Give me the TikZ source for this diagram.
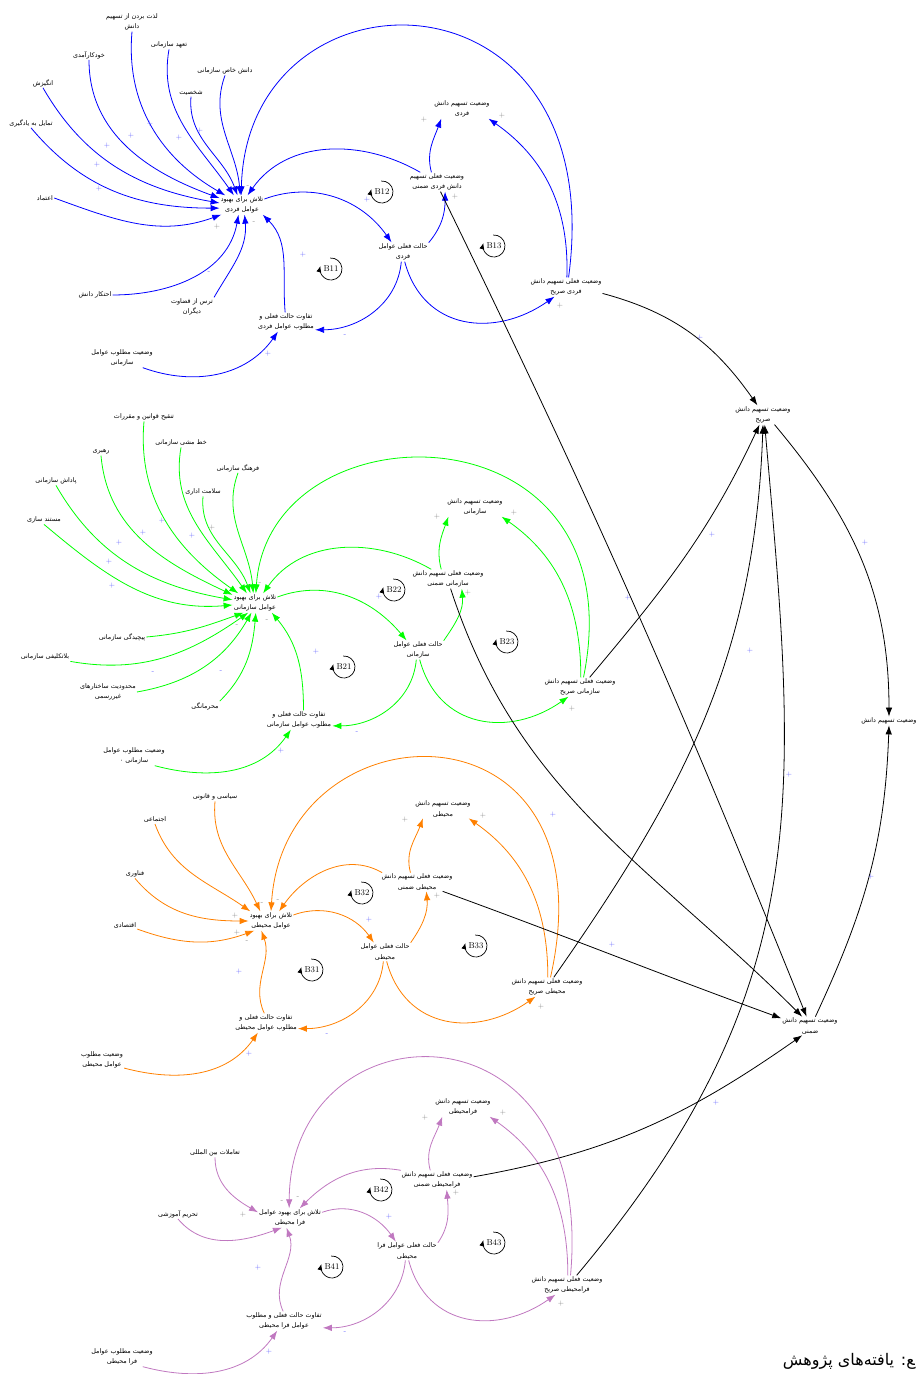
\documentclass[tikz,border=0pt]{standalone}
\usepackage{fontspec}
\usetikzlibrary{arrows.meta}
\newfontfamily\fa[Script=Arabic]{DejaVu Sans}
\TeXXeTstate=1
\newcommand\rtxt[1]{\beginR#1\endR}
\definecolor{cblue}{RGB}{0,0,255}
\definecolor{cgreen}{RGB}{0,255,0}
\definecolor{corange}{RGB}{255,128,0}
\definecolor{cpurple}{RGB}{192,120,192}
\definecolor{signblue}{RGB}{95,95,255}
\tikzset{
  lbl/.style={font=\fa\fontsize{6.4}{10.5}\selectfont, align=center, inner sep=1pt},
  sgn/.style={font=\sffamily\fontsize{7.5}{7.5}\selectfont, text=signblue, inner sep=0pt},
  sgng/.style={sgn, text=gray},
  bname/.style={font=\fontsize{8.5}{8.5}\selectfont, inner sep=0pt},
  edge/.style={line width=0.8pt, -{Latex[length=9pt,width=6.5pt]}},
  bedge/.style={edge, draw=cblue},
  gedge/.style={edge, draw=cgreen},
  oedge/.style={edge, draw=corange},
  pedge/.style={edge, draw=cpurple},
  kedge/.style={edge, draw=black}
}
% loop marker: coordinate name, label
\newcommand\loopmark[2]{%
  \node[bname] (#1t) at (#1) {#2};
  \draw[line width=0.7pt, -{Latex[length=6pt,width=5pt]}] ([shift={(95:11)}]#1) arc[start angle=95, end angle=-195, radius=11];
}
\begin{document}
\begin{tikzpicture}[x=1pt,y=1pt]
  \useasboundingbox (0,0) rectangle (922,1374);

  % individual factors
  \node[lbl] (a1) at (242,1169) {\rtxt{تلاش برای بهبود}\\\rtxt{عوامل فردی}};
  \node[lbl] (f11) at (132,1352) {\rtxt{لذت بردن از تسهیم}\\\rtxt{دانش}};
  \node[lbl] (f12) at (169,1329) {\rtxt{تعهد سازمانی}};
  \node[lbl] (f13) at (89,1319) {\rtxt{خودکارآمدی}};
  \node[lbl] (f14) at (225,1303) {\rtxt{دانش خاص سازمانی}};
  \node[lbl] (f15) at (43,1291) {\rtxt{انگیزش}};
  \node[lbl] (f16) at (191,1281) {\rtxt{شخصیت}};
  \node[lbl] (f17) at (31,1251) {\rtxt{تمایل به یادگیری}};
  \node[lbl] (f18) at (45,1176) {\rtxt{اعتماد}};
  \node[lbl] (f19) at (95,1079) {\rtxt{احتکار دانش}};
  \node[lbl] (f110) at (192,1067) {\rtxt{ترس از قضاوت}\\\rtxt{دیگران}};
  \node[lbl] (d1) at (286,1052) {\rtxt{تفاوت حالت فعلی و}\\\rtxt{مطلوب عوامل فردی}};
  \node[lbl] (g1) at (122,1016) {\rtxt{وضعیت مطلوب عوامل}\\\rtxt{سازمانی}};
  \node[lbl] (c1) at (403,1122) {\rtxt{حالت فعلی عوامل}\\\rtxt{فردی}};
  \node[lbl] (t1) at (437,1192) {\rtxt{وضعیت فعلی تسهیم}\\\rtxt{دانش فردی ضمنی}};
  \node[lbl] (s1) at (462,1265) {\rtxt{وضعیت تسهیم دانش}\\\rtxt{فردی}};
  \node[lbl] (e1) at (566,1087) {\rtxt{وضعیت فعلی تسهیم دانش}\\\rtxt{فردی صریح}};

  % organisational factors
  \node[lbl] (a2) at (255,771) {\rtxt{تلاش برای بهبود}\\\rtxt{عوامل سازمانی}};
  \node[lbl] (f21) at (144,957) {\rtxt{تنقیح قوانین و مقررات}};
  \node[lbl] (f22) at (181,931) {\rtxt{خط مشی سازمانی}};
  \node[lbl] (f23) at (101,922) {\rtxt{رهبری}};
  \node[lbl] (f24) at (238,906) {\rtxt{فرهنگ سازمانی}};
  \node[lbl] (f25) at (56,893) {\rtxt{پاداش سازمانی}};
  \node[lbl] (f26) at (203,882) {\rtxt{سلامت اداری}};
  \node[lbl] (f27) at (44,854) {\rtxt{مستند سازی}};
  \node[lbl] (f28) at (122,737) {\rtxt{پیچیدگی سازمانی}};
  \node[lbl] (f29) at (45,717) {\rtxt{بلاتکلیفی سازمانی}};
  \node[lbl] (f210) at (108,682) {\rtxt{محدودیت ساختارهای}\\\rtxt{غیررسمی}};
  \node[lbl] (f211) at (205,668) {\rtxt{محرمانگی}};
  \node[lbl] (d2) at (299,654) {\rtxt{تفاوت حالت فعلی و}\\\rtxt{مطلوب عوامل سازمانی}};
  \node[lbl] (g2) at (134,618) {\rtxt{وضعیت مطلوب عوامل}\\\rtxt{سازمانی ۰}};
  \node[lbl] (c2) at (418,724) {\rtxt{حالت فعلی عوامل}\\\rtxt{سازمانی}};
  \node[lbl] (t2) at (448,795) {\rtxt{وضعیت فعلی تسهیم دانش}\\\rtxt{سازمانی ضمنی}};
  \node[lbl] (s2) at (475,867) {\rtxt{وضعیت تسهیم دانش}\\\rtxt{سازمانی}};
  \node[lbl] (e2) at (580,687) {\rtxt{وضعیت فعلی تسهیم دانش}\\\rtxt{سازمانی صریح}};

  % environmental factors
  \node[lbl] (a3) at (271,453) {\rtxt{تلاش برای بهبود}\\\rtxt{عوامل محیطی}};
  \node[lbl] (f31) at (215,577) {\rtxt{سیاسی و قانونی}};
  \node[lbl] (f32) at (155,554) {\rtxt{اجتماعی}};
  \node[lbl] (f33) at (135,500) {\rtxt{فناوری}};
  \node[lbl] (f34) at (125,449) {\rtxt{اقتصادی}};
  \node[lbl] (d3) at (266,351) {\rtxt{تفاوت حالت فعلی و}\\\rtxt{مطلوب عوامل محیطی}};
  \node[lbl] (g3) at (102,314) {\rtxt{وضعیت مطلوب}\\\rtxt{عوامل محیطی}};
  \node[lbl] (c3) at (385,422) {\rtxt{حالت فعلی عوامل}\\\rtxt{محیطی}};
  \node[lbl] (t3) at (417,492) {\rtxt{وضعیت فعلی تسهیم دانش}\\\rtxt{محیطی ضمنی}};
  \node[lbl] (s3) at (443,565) {\rtxt{وضعیت تسهیم دانش}\\\rtxt{محیطی}};
  \node[lbl] (e3) at (547,387) {\rtxt{وضعیت فعلی تسهیم دانش}\\\rtxt{محیطی صریح}};

  % meta-environmental factors
  \node[lbl] (a4) at (290,156) {\rtxt{تلاش برای بهبود عوامل}\\\rtxt{فرا محیطی}};
  \node[lbl] (f41) at (215,221) {\rtxt{تعاملات بین المللی}};
  \node[lbl] (f42) at (178,160) {\rtxt{تحریم آموزشی}};
  \node[lbl] (d4) at (284,53) {\rtxt{تفاوت حالت فعلی و مطلوب}\\\rtxt{عوامل فرا محیطی}};
  \node[lbl] (g4) at (122,17) {\rtxt{وضعیت مطلوب عوامل}\\\rtxt{فرا محیطی}};
  \node[lbl] (c4) at (407,123) {\rtxt{حالت فعلی عوامل فرا}\\\rtxt{محیطی}};
  \node[lbl] (t4) at (437,194) {\rtxt{وضعیت فعلی تسهیم دانش}\\\rtxt{فرامحیطی ضمنی}};
  \node[lbl] (s4) at (463,267) {\rtxt{وضعیت تسهیم دانش}\\\rtxt{فرامحیطی}};
  \node[lbl] (e4) at (567,89) {\rtxt{وضعیت فعلی تسهیم دانش}\\\rtxt{فرامحیطی صریح}};

  % knowledge sharing
  \node[lbl] (r1) at (763,959) {\rtxt{وضعیت تسهیم دانش}\\\rtxt{صریح}};
  \node[lbl] (r2) at (889,653) {\rtxt{وضعیت تسهیم دانش}};
  \node[lbl] (r3) at (810,348) {\rtxt{وضعیت تسهیم دانش}\\\rtxt{ضمنی}};
  \node[font=\fa\fontsize{16}{16}\selectfont, anchor=east, inner sep=0pt] (src) at (915,13) {\rtxt{\char"200D ع: یافته‌های پژوهش}};

  % loops
  \coordinate (b11) at (331,1105);
  \coordinate (b12) at (382,1182);
  \coordinate (b13) at (494,1128);
  \coordinate (b21) at (344,707);
  \coordinate (b22) at (394,784);
  \coordinate (b23) at (507,732);
  \coordinate (b31) at (312,404);
  \coordinate (b32) at (362,481);
  \coordinate (b33) at (476,428);
  \coordinate (b41) at (332,107);
  \coordinate (b42) at (381,184);
  \coordinate (b43) at (494,131);
  \loopmark{b11}{B11} \loopmark{b12}{B12} \loopmark{b13}{B13}
  \loopmark{b21}{B21} \loopmark{b22}{B22} \loopmark{b23}{B23}
  \loopmark{b31}{B31} \loopmark{b32}{B32} \loopmark{b33}{B33}
  \loopmark{b41}{B41} \loopmark{b42}{B42} \loopmark{b43}{B43}

  % blue
  \draw[bedge] (f11.south) to[out=-95,in=150] (a1.150);
  \draw[bedge] (f12.south) to[out=-100,in=125] (a1.130);
  \draw[bedge] (f13.south) to[out=-90,in=160] (a1.163);
  \draw[bedge] (f14.south) to[out=-110,in=95] (a1.100);
  \draw[bedge] (f15.south) to[out=-60,in=170] (a1.175);
  \draw[bedge] (f16.south) to[out=-95,in=110] (a1.115);
  \draw[bedge] (f17.south) to[out=-50,in=180] (a1.188);
  \draw[bedge] (f18.east) to[out=-20,in=200] (a1.205);
  \draw[bedge] (f19.east) to[out=0,in=-100] (a1.-110);
  \draw[bedge] (f110.north east) to[out=60,in=-85] (a1.-75);
  \draw[bedge] (d1.95) to[out=95,in=-45] (a1.-25);
  \draw[bedge] (g1.-25) to[out=-20,in=-125] (d1.-130);
  \draw[bedge] (a1.15) to[out=20,in=125] (c1.140);
  \draw[bedge] (c1.20) to[out=50,in=-90] (t1.-50);
  \draw[bedge] (c1.-100) to[out=-95,in=0] (d1.-15);
  \draw[bedge] (c1.-80) to[out=-75,in=215,looseness=1.2] (e1.-140);
  \draw[bedge] (t1.150) to[out=150,in=55] (a1.60);
  \draw[bedge] (e1.75) .. controls +(43,320) and +(6,237) .. (a1.95);
  \draw[bedge] (t1.120) to[out=105,in=-110] (s1.-155);
  \draw[bedge] (e1.85) to[out=88,in=-35] (s1.-20);

  % green
  \draw[gedge] (f21.south) to[out=-95,in=145] (a2.150);
  \draw[gedge] (f22.south) to[out=-100,in=125] (a2.130);
  \draw[gedge] (f23.south) to[out=-85,in=155] (a2.160);
  \draw[gedge] (f24.south) to[out=-110,in=95] (a2.100);
  \draw[gedge] (f25.south) to[out=-60,in=170] (a2.172);
  \draw[gedge] (f26.south) to[out=-95,in=110] (a2.115);
  \draw[gedge] (f27.south) to[out=-40,in=185] (a2.185);
  \draw[gedge] (f28.east) to[out=5,in=-160] (a2.-140);
  \draw[gedge] (f29.south east) to[out=-10,in=-145] (a2.-125);
  \draw[gedge] (f210.east) to[out=10,in=-120] (a2.-110);
  \draw[gedge] (f211.north east) to[out=45,in=-95] (a2.-85);
  \draw[gedge] (d2.65) to[out=90,in=-50] (a2.-30);
  \draw[gedge] (g2.-25) to[out=-15,in=-125] (d2.-130);
  \draw[gedge] (a2.15) to[out=20,in=130] (c2.140);
  \draw[gedge] (c2.20) to[out=55,in=-85] (t2.-35);
  \draw[gedge] (c2.-100) to[out=-95,in=0] (d2.-10);
  \draw[gedge] (c2.-80) to[out=-75,in=215,looseness=1.2] (e2.-140);
  \draw[gedge] (t2.150) to[out=150,in=55] (a2.50);
  \draw[gedge] (e2.70) .. controls +(56,276) and +(13,192) .. (a2.85);
  \draw[gedge] (t2.125) to[out=105,in=-110] (s2.-160);
  \draw[gedge] (e2.85) to[out=90,in=-35] (s2.-20);

  % orange
  \draw[oedge] (f31.south) to[out=-95,in=115] (a3.138);
  \draw[oedge] (f32.south) to[out=-70,in=145] (a3.155);
  \draw[oedge] (f33.south) to[out=-50,in=180] (a3.180);
  \draw[oedge] (f34.south east) to[out=-20,in=-160] (a3.-150);
  \draw[oedge] (d3.100) to[out=115,in=-70] (a3.-135);
  \draw[oedge] (g3.-20) to[out=-15,in=-125] (d3.-130);
  \draw[oedge] (a3.15) to[out=20,in=125] (c3.140);
  \draw[oedge] (c3.20) to[out=55,in=-85] (t3.-45);
  \draw[oedge] (c3.-100) to[out=-95,in=0] (d3.-10);
  \draw[oedge] (c3.-80) to[out=-75,in=215,looseness=1.2] (e3.-140);
  \draw[oedge] (t3.165) to[out=150,in=55] (a3.50);
  \draw[oedge] (e3.70) .. controls +(64,286) and +(13,210) .. (a3.90);
  \draw[oedge] (t3.125) to[out=105,in=-110] (s3.-155);
  \draw[oedge] (e3.85) to[out=90,in=-35] (s3.-20);

  % purple
  \draw[pedge] (f41.south) to[out=-90,in=150] (a4.170);
  \draw[pedge] (f42.south) to[out=-50,in=-160] (a4.-130);
  \draw[pedge] (d4.95) to[out=115,in=-70] (a4.-110);
  \draw[pedge] (g4.-25) to[out=-15,in=-125] (d4.-125);
  \draw[pedge] (a4.10) to[out=20,in=125] (c4.140);
  \draw[pedge] (c4.15) to[out=55,in=-85] (t4.-45);
  \draw[pedge] (c4.-100) to[out=-95,in=0] (d4.-10);
  \draw[pedge] (c4.-80) to[out=-75,in=215,looseness=1.2] (e4.-140);
  \draw[pedge] (t4.165) to[out=170,in=45] (a4.45);
  \draw[pedge] (e4.70) .. controls +(26,284) and +(1,205) .. (a4.95);
  \draw[pedge] (t4.125) to[out=105,in=-110] (s4.-155);
  \draw[pedge] (e4.85) to[out=90,in=-35] (s4.-20);

  % black
  \draw[kedge] (t1.-70) to[out=-64,in=112] (r3.110);
  \draw[kedge] (t2.-75) to[out=-72,in=135] (r3.130);
  \draw[kedge] (t3.-20) to[out=-20,in=160] (r3.165);
  \draw[kedge] (t4.5) to[out=10,in=-145] (r3.-130);
  \draw[kedge] (e1.-10) to[out=-15,in=125] (r1.120);
  \draw[kedge] (e2.45) to[out=50,in=-115] (r1.-110);
  \draw[kedge] (e3.55) to[out=55,in=-92] (r1.-90);
  \draw[kedge] (e4.45) to[out=50,in=-85,looseness=1.1] (r1.-80);
  \draw[kedge] (r1.-40) to[out=-50,in=90] (r2.90);
  \draw[kedge] (r3.60) to[out=65,in=-92] (r2.-90);

  % signs
  \foreach \x/\y [count=\i] in {150/1250,131/1238,107/1228,97/1209,99/1185,179/1236,200/1243,303/1119,268/1020,367/1174,
      162/853,143/841,119/831,109/812,112/788,192/838,316/722,281/623,379/777,
      239/402,249/320,369/454,258/106,269/22,389/157,
      628/776,700/1036,712/839,865/831,750/723,789/599,871/497,553/559,612/429,716/271}
    \node[sgn] (pp\i) at (\x,\y) {+};
  \foreach \x/\y [count=\i] in {217/1147,455/1177,560/1068,424/1254,502/1258,
      212/846,468/781,437/857,514/861,572/665,
      235/458,237/441,437/478,405/554,483/558,541/367,
      243/159,456/181,425/256,503/261,561/70}
    \node[sgng] (gp\i) at (\x,\y) {+};
  \foreach \x/\y [count=\i] in {234/1185,248/1187,254/1151,249/787,260/790,267/753,237/748,
      247/432,262/470,278/473,282/172,298/176}
    \node[sgng] (gm\i) at (\x,\y) {-};
  \foreach \x/\y [count=\i] in {209/1101,345/1038,153/701,221/702,357/641,327/339,345/41}
    \node[sgn] (pm\i) at (\x,\y) {-};
\end{tikzpicture}
\end{document}
